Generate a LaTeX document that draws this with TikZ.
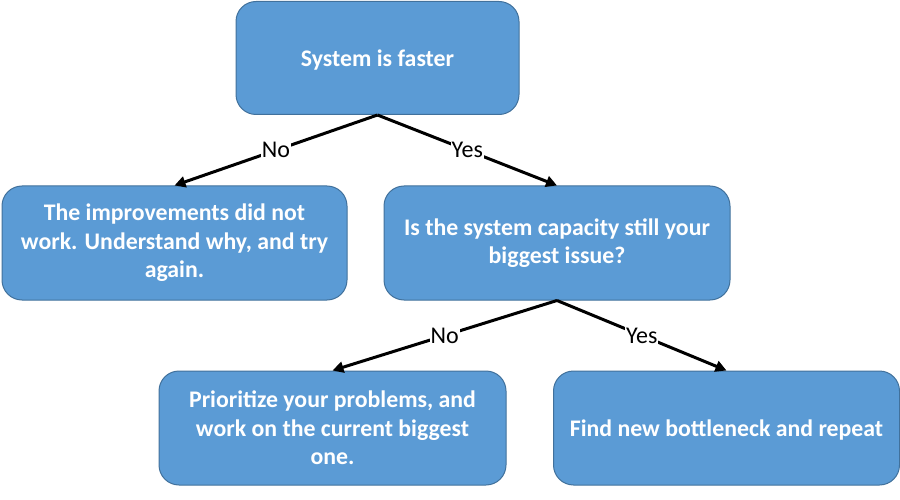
\documentclass[tikz,border=0pt]{standalone}
\usepackage{fontspec}
\setmainfont{Carlito}
\usepackage{tikz}
\usetikzlibrary{arrows.meta}
\definecolor{boxfill}{HTML}{5B9BD5}
\definecolor{boxline}{HTML}{41719C}

\begin{document}
\begin{tikzpicture}[x=1pt,y=-1pt,
	box/.style={draw=boxline,line width=1pt,fill=boxfill,rounded corners=20pt,
		text=white,align=center,font=\fontsize{23.8}{28.5}\selectfont\bfseries,inner sep=0pt},
	link/.style={line width=3pt,-{Triangle[length=11pt,width=11pt]}},
	lbl/.style={fill=white,inner sep=1pt,font=\fontsize{24}{26}\selectfont}]
	\useasboundingbox (0,0) rectangle (900,500);
	\node[box,minimum width=283pt,minimum height=113pt] (faster) at (377.5,58) {\raisebox{-2.5pt}[\height][\depth]{System is faster}};
	\node[box,minimum width=345pt,minimum height=114pt] (notwork) at (174.5,243) {The improvements did not\\work. Understand why, and try\\again.};
	\node[box,minimum width=346pt,minimum height=114pt] (capacity) at (557,243) {Is the system capacity still your\\biggest issue?};
	\node[box,minimum width=347pt,minimum height=114pt] (prioritize) at (332.5,428) {Prioritize your problems, and\\work on the current biggest\\one.};
	\node[box,minimum width=346pt,minimum height=114pt] (bottleneck) at (726.5,428) {\raisebox{-2.5pt}[\height][\depth]{Find new bottleneck and repeat}};
	\draw[link] (faster.south) -- node[lbl] {No} (notwork.north);
	\draw[link] (faster.south) -- node[lbl] {Yes} (capacity.north);
	\draw[link] (capacity.south) -- node[lbl] {No} (prioritize.north);
	\draw[link] (capacity.south) -- node[lbl] {Yes} (bottleneck.north);
\end{tikzpicture}
\end{document}
